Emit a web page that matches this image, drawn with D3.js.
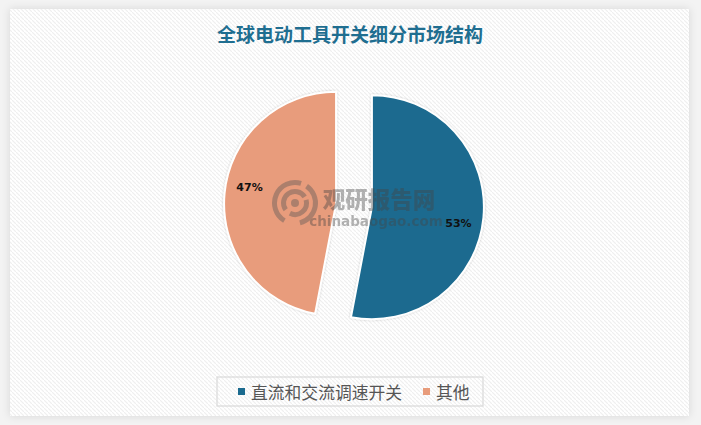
<!DOCTYPE html>
<html><head><meta charset="utf-8">
<script src="https://cdn.jsdelivr.net/npm/d3@7/dist/d3.min.js"></script>
<style>body{margin:0;background:#f3f3f3;}svg{display:block;}</style>
</head><body>
<svg id="c" width="701" height="425"></svg>
<script>
const title = "全球电动工具开关细分市场结构";
const categories = ["直流和交流调速开关", "其他"];
const values = [53, 47];
const colors = ["#1b6b8f", "#e89c7b"];

const svg = d3.select("#c");
const defs = svg.append("defs");
const pat = defs.append("pattern").attr("id","stripe").attr("patternUnits","userSpaceOnUse")
  .attr("width",4).attr("height",4);
pat.append("rect").attr("width",4).attr("height",4).attr("fill","#ffffff");
pat.append("path").attr("d","M-1,-1 l2,2 M0,0 l4,4 M3,3 l2,2").attr("stroke","#efefef").attr("stroke-width",1.1);
const sh = defs.append("filter").attr("id","sh").attr("x","-10%").attr("y","-10%").attr("width","120%").attr("height","120%");
sh.append("feDropShadow").attr("dx",0).attr("dy",0).attr("stdDeviation",4).attr("flood-color","#000").attr("flood-opacity",0.12);
const sh2 = defs.append("filter").attr("id","sh2").attr("x","-20%").attr("y","-20%").attr("width","140%").attr("height","140%");
sh2.append("feDropShadow").attr("dx",0).attr("dy",0).attr("stdDeviation",1.2).attr("flood-color","#000").attr("flood-opacity",0.2);

svg.append("rect").attr("x",10).attr("y",9).attr("width",679).attr("height",407)
  .attr("fill","url(#stripe)").attr("filter","url(#sh)");

svg.append("text").attr("x",350).attr("y",33).attr("text-anchor","middle").attr("dominant-baseline","central")
  .attr("font-family","'Noto Sans CJK SC'").attr("font-weight","bold").attr("font-size",19)
  .attr("fill","#1f6e90").text(title);

const cx = 354, cy = 205.5, R = 112, explode = 18;
const pie = d3.pie().sort(null).startAngle(0).endAngle(2*Math.PI)(values);
const arc = d3.arc().innerRadius(0).outerRadius(R);
const g = svg.append("g").attr("transform",`translate(${cx},${cy})`);
const slices = g.selectAll("g.s").data(pie).join("g").attr("class","s")
  .attr("transform", d => {
    const m = (d.startAngle + d.endAngle)/2;
    return `translate(${explode*Math.sin(m)},${-explode*Math.cos(m)})`;
  });
slices.append("path").attr("d",arc).attr("fill",(d,i)=>colors[i])
  .attr("stroke","#fff").attr("stroke-width",2).attr("filter","url(#sh2)");
const labelShift = 5*Math.PI/180, labelR = 88;
slices.append("text")
  .attr("x", d => labelR*Math.sin((d.startAngle+d.endAngle)/2 + labelShift))
  .attr("y", d => -labelR*Math.cos((d.startAngle+d.endAngle)/2 + labelShift))
  .attr("text-anchor","middle").attr("dominant-baseline","central")
  .attr("font-family","'DejaVu Sans'").attr("font-weight","bold").attr("font-size",11)
  .attr("fill","#111").text(d => d.data + "%");

// watermark
const wm = svg.append("g").attr("opacity",0.4);
const la = d3.arc();
const lc = [295, 203];
const lg = wm.append("g").attr("transform",`translate(${lc[0]},${lc[1]})`).attr("fill","#555");
lg.append("path").attr("d", la({innerRadius:18,outerRadius:23,startAngle:-2.6,endAngle:0.3}));
lg.append("path").attr("d", la({innerRadius:18,outerRadius:23,startAngle:0.6,endAngle:2.9}));
lg.append("path").attr("d", la({innerRadius:9,outerRadius:14,startAngle:-2.2,endAngle:1.0}));
lg.append("path").attr("d", la({innerRadius:9,outerRadius:14,startAngle:1.3,endAngle:3.6}));
lg.append("circle").attr("r",4);
wm.append("text").attr("x",379).attr("y",198).attr("text-anchor","middle").attr("dominant-baseline","central")
  .attr("font-family","'Noto Sans CJK SC'").attr("font-weight","900").attr("font-size",22.5).attr("fill","#444").text("观研报告网");
wm.append("text").attr("x",376).attr("y",221).attr("text-anchor","middle").attr("dominant-baseline","central")
  .attr("font-family","'DejaVu Sans'").attr("font-weight","bold").attr("font-size",13.5).attr("fill","#444").text("chinabaogao.com");

// legend
const lgd = svg.append("g");
lgd.append("rect").attr("x",217).attr("y",377).attr("width",266).attr("height",29)
  .attr("fill","none").attr("stroke","#d9d9d9").attr("stroke-width",1.2);
const lx = [238, 423];
categories.forEach((c,i)=>{
  lgd.append("rect").attr("x",lx[i]).attr("y",388).attr("width",7).attr("height",7).attr("fill",colors[i]);
  lgd.append("text").attr("x",lx[i]+13).attr("y",391.5).attr("dominant-baseline","central")
    .attr("font-family","'Noto Sans CJK SC'").attr("font-size",16.8).attr("fill","#555555").text(c);
});
</script>
</body></html>
